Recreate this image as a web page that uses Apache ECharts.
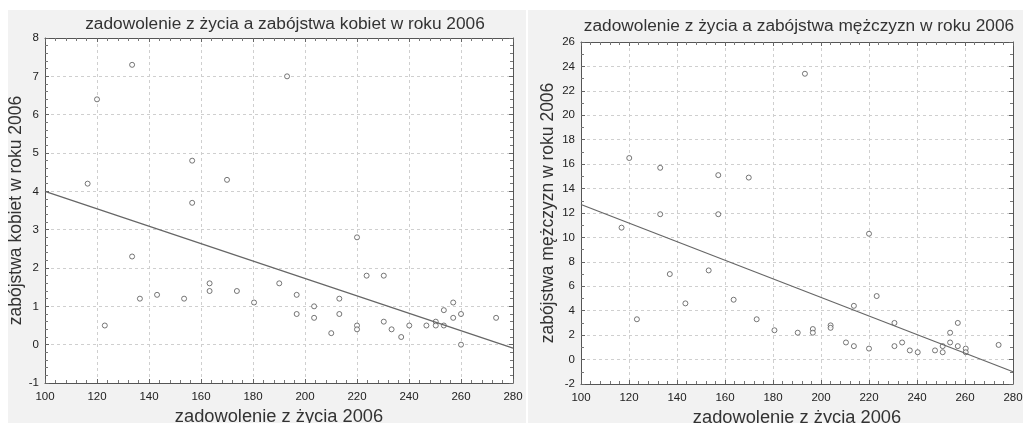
<!DOCTYPE html>
<html>
<head>
<meta charset="utf-8">
<script src="https://cdn.jsdelivr.net/npm/echarts@6/dist/echarts.min.js"></script>
<style>
  html, body { margin: 0; padding: 0; background: #fff; }
  #main { width: 1023px; height: 423px; }
</style>
</head>
<body>
<div id="main"></div>
<script>
// kobiety (lewy wykres)
const zadowolenieK = [116.4, 120, 123, 133.5, 133.5, 136.5, 143.1, 153.5, 156.6, 156.6, 163.3, 163.3, 170, 173.8, 180.4,
  190.1, 193.1, 196.8, 196.8, 203.5, 203.5, 210.1, 213.2, 213.2, 220, 220, 220, 223.7, 230.3, 230.3, 233.3, 237,
  240.1, 246.7, 250.3, 250.3, 253.4, 253.4, 257, 257, 260, 260, 273.5]
const zabojstwaK = [4.2, 6.4, 0.5, 7.3, 2.3, 1.2, 1.3, 1.2, 4.8, 3.7, 1.6, 1.4, 4.3, 1.4, 1.1,
  1.6, 7.0, 1.3, 0.8, 1.0, 0.7, 0.3, 1.2, 0.8, 2.8, 0.5, 0.4, 1.8, 1.8, 0.6, 0.4, 0.2,
  0.5, 0.5, 0.6, 0.5, 0.5, 0.9, 1.1, 0.7, 0.8, 0.0, 0.7]
const liniaK = [[100, 4.0], [280, -0.09]]

// mezczyzni (prawy wykres)
const zadowolenieM = [116.9, 120.1, 123.3, 133, 133, 137, 143.5, 153.2, 157.2, 157.2, 163.6, 169.9, 173.2, 180.6,
  190.3, 193.3, 196.6, 196.6, 204, 204, 210.4, 213.7, 213.7, 220, 220, 223.2, 230.6, 230.6, 233.8, 237,
  240.3, 247.5, 250.7, 250.7, 253.8, 253.8, 257, 257, 260.3, 260.3, 274]
const zabojstwaM = [10.8, 16.5, 3.3, 15.7, 11.9, 7.0, 4.6, 7.3, 15.1, 11.9, 4.9, 14.9, 3.3, 2.4,
  2.2, 23.4, 2.5, 2.2, 2.8, 2.6, 1.4, 4.4, 1.1, 10.3, 0.9, 5.2, 3.0, 1.1, 1.4, 0.75,
  0.6, 0.75, 1.1, 0.6, 2.2, 1.4, 1.1, 3.0, 0.9, 0.6, 1.2]
const liniaM = [[100, 12.7], [280, -1.0]]

const xTicks = { min: 100, max: 280, interval: 20 }
const yTicksK = { min: -1, max: 8, interval: 1 }
const yTicksM = { min: -2, max: 26, interval: 2 }

const zip = (a, b) => a.map((v, i) => [v, b[i]])

const labelStyle = { color: '#222', fontSize: 11.5, fontFamily: '"Liberation Sans", Arial' }
const font = '"Liberation Sans", Arial'

// os glowna z etykietami
function mainAxis(grid, pos, ticks, name, gap, nameSize, minorSplit, margin) {
  return {
    type: 'value', gridIndex: grid, position: pos,
    min: ticks.min, max: ticks.max, interval: ticks.interval,
    name: name, nameLocation: 'middle', nameGap: gap,
    nameTextStyle: { color: '#333', fontSize: nameSize, fontFamily: font },
    axisLine: { show: true, onZero: false, lineStyle: { color: '#555', width: 1 } },
    axisTick: { show: true, inside: true, length: 4, lineStyle: { color: '#666' } },
    minorTick: { show: true, splitNumber: minorSplit, length: 3, lineStyle: { color: '#777' } },
    axisLabel: Object.assign({ margin: margin }, labelStyle),
    splitLine: { show: true, lineStyle: { color: '#cfcfcf', type: [3, 3], width: 1 } }
  }
}
// os pomocnicza (gora / prawo) tylko z kreskami
function sideAxis(grid, pos, ticks, minorSplit) {
  return {
    type: 'value', gridIndex: grid, position: pos,
    min: ticks.min, max: ticks.max, interval: ticks.interval,
    axisLine: { show: true, onZero: false, lineStyle: { color: '#555', width: 1 } },
    axisTick: { show: true, inside: true, length: 4, lineStyle: { color: '#666' } },
    minorTick: { show: true, splitNumber: minorSplit, length: 3, lineStyle: { color: '#777' } },
    axisLabel: { show: false },
    splitLine: { show: false }
  }
}

function scatter(name, x, y, data) {
  return {
    name: name, type: 'scatter', xAxisIndex: x, yAxisIndex: y, data: data,
    symbol: 'circle', symbolSize: 5,
    itemStyle: { color: '#fff', borderColor: '#555', borderWidth: 1 },
    silent: true
  }
}
function line(x, y, data) {
  return {
    type: 'line', xAxisIndex: x, yAxisIndex: y, data: data,
    symbol: 'none', lineStyle: { color: '#666', width: 1.2 }, silent: true
  }
}

let myChart = echarts.init(document.getElementById('main'))
let option = {
  animation: false,
  backgroundColor: '#fff',
  graphic: [
    { type: 'rect', shape: { x: 8, y: 10, width: 518, height: 413 }, style: { fill: '#f2f2f2' }, z: -10 },
    { type: 'rect', shape: { x: 528, y: 10, width: 495, height: 413 }, style: { fill: '#f2f2f2' }, z: -10 }
  ],
  title: [
    { text: 'zadowolenie z życia a zabójstwa kobiet w roku 2006', left: 280, top: 11, textAlign: 'center',
      textStyle: { color: '#333', fontSize: 17.3, fontWeight: 'normal', fontFamily: font } },
    { text: 'zadowolenie z życia a zabójstwa mężczyzn w roku 2006', left: 794, top: 13, textAlign: 'center',
      textStyle: { color: '#333', fontSize: 17.3, fontWeight: 'normal', fontFamily: font } }
  ],
  grid: [
    { left: 45, top: 38, width: 468, height: 345, show: true, backgroundColor: '#fff', borderWidth: 0,
      outerBoundsMode: 'none', containLabel: false },
    { left: 581, top: 42, width: 432, height: 342, show: true, backgroundColor: '#fff', borderWidth: 0,
      outerBoundsMode: 'none', containLabel: false }
  ],
  xAxis: [
    mainAxis(0, 'bottom', xTicks, 'zadowolenie z życia 2006', 21, 18.3, 5, 8),
    sideAxis(0, 'top', xTicks, 5),
    mainAxis(1, 'bottom', xTicks, 'zadowolenie z życia 2006', 20, 18.3, 5, 8),
    sideAxis(1, 'top', xTicks, 5)
  ],
  yAxis: [
    mainAxis(0, 'left', yTicksK, 'zabójstwa kobiet w roku 2006', 19, 17.5, 5, 6),
    sideAxis(0, 'right', yTicksK, 5),
    mainAxis(1, 'left', yTicksM, 'zabójstwa mężczyzn w roku 2006', 24, 17.5, 2, 6),
    sideAxis(1, 'right', yTicksM, 2)
  ],
  series: [
    scatter('kobiety', 0, 0, zip(zadowolenieK, zabojstwaK)),
    line(0, 0, liniaK),
    scatter('mężczyźni', 2, 2, zip(zadowolenieM, zabojstwaM)),
    line(2, 2, liniaM)
  ]
}
myChart.setOption(option)
</script>
</body>
</html>
